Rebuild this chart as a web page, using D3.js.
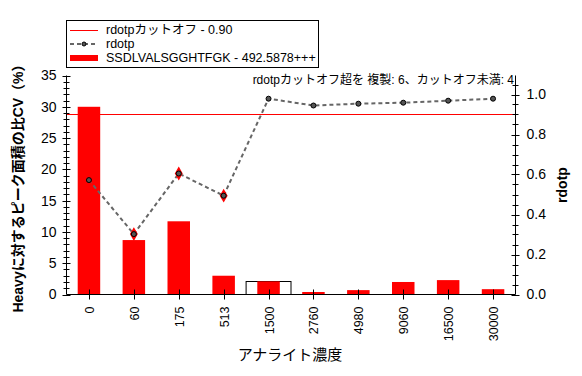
<!DOCTYPE html>
<html><head><meta charset="utf-8">
<script src="https://cdn.jsdelivr.net/npm/d3@7"></script>
<style>
body{margin:0;background:#fff;}
text{font-family:"Liberation Sans",Arial,"Noto Sans CJK JP",sans-serif;}
</style></head><body>
<svg id="c" width="582" height="376"></svg>
<script>
const categories = ["0","60","175","513","1500","2760","4980","9060","16500","30000"];
const cvValues = [30.0, 8.7, 11.7, 3.0, 2.1, 0.4, 0.7, 2.0, 2.3, 0.85];
const rdotpValues = [0.572, 0.302, 0.605, 0.494, 0.979, 0.945, 0.954, 0.959, 0.969, 0.979];
const cutoff = 0.90;
const highlightCategory = "1500";
const highlightValue = 2.2;
const leftTicks = [0,5,10,15,20,25,30,35];
const rightTicks = [0.0,0.2,0.4,0.6,0.8,1.0];

const svg = d3.select("#c");
const L = 66.5, R = 515.5, T = 75.5, B = 294.5;
const x = d3.scaleBand().domain(categories).range([L, R]).paddingInner(0).paddingOuter(0);
const yL = d3.scaleLinear().domain([0, 35]).range([B, T]);
const yR = d3.scaleLinear().domain([0, 1]).range([B, B - 200]);

// highlight box
svg.append("rect")
  .attr("x", x(highlightCategory)).attr("width", x.bandwidth())
  .attr("y", Math.round(yL(highlightValue)) + 0.5).attr("height", B - Math.round(yL(highlightValue)) - 0.5)
  .attr("fill", "#fff").attr("stroke", "#000").attr("stroke-width", 1);

// bars
const bw = 22.5;
svg.selectAll("rect.bar").data(categories).enter().append("rect")
  .attr("class", "bar")
  .attr("x", d => x(d) + x.bandwidth()/2 - bw/2)
  .attr("width", bw)
  .attr("y", (d,i) => yL(cvValues[i]))
  .attr("height", (d,i) => B - yL(cvValues[i]))
  .attr("fill", "#ff0000");

// cutoff line
const cy0 = Math.round(yR(cutoff)) + 0.5;
svg.append("line").attr("x1", L).attr("x2", R)
  .attr("y1", cy0).attr("y2", cy0)
  .attr("stroke", "#ff0000").attr("stroke-width", 1);

// rdotp line
const line = d3.line().x((d,i) => x(categories[i]) + x.bandwidth()/2).y(d => yR(d));
svg.append("path").datum(rdotpValues).attr("d", line)
  .attr("fill", "none").attr("stroke", "#666").attr("stroke-width", 2)
  .attr("stroke-dasharray", "4,3");

// markers
rdotpValues.forEach((v,i) => {
  const cx = x(categories[i]) + x.bandwidth()/2, cy = yR(v);
  if (v < cutoff) {
    svg.append("path").attr("d", d3.symbol(d3.symbolDiamond, 55)())
      .attr("transform", `translate(${cx},${cy})`).attr("fill", "#ff0000");
  }
  svg.append("circle").attr("cx", cx).attr("cy", cy).attr("r", 2.5)
    .attr("fill", "#555").attr("stroke", "#000").attr("stroke-width", 1);
});

// axes
const gL = svg.append("g").attr("transform", `translate(${L},0)`);
gL.append("line").attr("y1", T).attr("y2", B).attr("stroke", "#000");
d3.range(0, 36, 1).forEach(v => {
  const major = v % 5 === 0;
  const yy = Math.round(yL(v)) + 0.5;
  gL.append("line").attr("x1", major ? -4 : -3).attr("x2", major ? 4 : 3)
    .attr("y1", yy).attr("y2", yy).attr("stroke", "#000");
});
gL.selectAll("text").data(leftTicks).enter().append("text")
  .attr("x", -10).attr("y", d => yL(d)).attr("dy", "0.35em")
  .attr("text-anchor", "end").attr("font-size", 14).text(d => d);

const gR = svg.append("g").attr("transform", `translate(${R},0)`);
gR.append("line").attr("y1", T).attr("y2", B).attr("stroke", "#000");
d3.range(0, 22).forEach(k => {
  const v = k * 0.05;
  const major = k % 4 === 0;
  const yy = Math.round(yR(v)) + 0.5;
  gR.append("line").attr("x1", major ? -4 : -3).attr("x2", major ? 4 : 3)
    .attr("y1", yy).attr("y2", yy).attr("stroke", "#000");
});
gR.selectAll("text").data(rightTicks).enter().append("text")
  .attr("x", 11).attr("y", d => yR(d)).attr("dy", "0.35em")
  .attr("text-anchor", "start").attr("font-size", 14).text(d => d.toFixed(1));

const gB = svg.append("g").attr("transform", `translate(0,${B})`);
gB.append("line").attr("x1", L).attr("x2", R).attr("stroke", "#000");
categories.forEach(c => {
  const cx = Math.round(x(c) + x.bandwidth()/2) + 0.5;
  gB.append("line").attr("x1", cx).attr("x2", cx).attr("y1", -5).attr("y2", 5).attr("stroke", "#000");
  gB.append("text").attr("transform", `translate(${cx},12) rotate(-90)`)
    .attr("text-anchor", "end").attr("dy", "0.35em").attr("font-size", 12.5).text(c);
});

// titles
svg.append("text").attr("transform", "translate(18,185) rotate(-90)")
  .attr("text-anchor", "middle").attr("dy", "0.35em").attr("font-size", 14).attr("font-weight", "bold")
  .text("Heavyに対するピーク面積の比CV（%）");
svg.append("text").attr("transform", "translate(562,185) rotate(-90)")
  .attr("text-anchor", "middle").attr("dy", "0.35em").attr("font-size", 14).attr("font-weight", "bold")
  .text("rdotp");
svg.append("text").attr("x", 290).attr("y", 355).attr("dy", "0.35em")
  .attr("text-anchor", "middle").attr("font-size", 15).text("アナライト濃度");

// annotation
svg.append("text").attr("x", 514).attr("y", 80).attr("dy", "0.35em")
  .attr("text-anchor", "end").attr("font-size", 12)
  .text("rdotpカットオフ超を 複製: 6、カットオフ未満: 4");

// legend
const lg = svg.append("g");
lg.append("rect").attr("x", 66.5).attr("y", 20.5).attr("width", 252).attr("height", 47)
  .attr("fill", "#fff").attr("stroke", "#000");
lg.append("line").attr("x1", 70).attr("x2", 98).attr("y1", 30.5).attr("y2", 30.5).attr("stroke", "#ff0000");
lg.append("line").attr("x1", 70).attr("x2", 98).attr("y1", 44).attr("y2", 44)
  .attr("stroke", "#666").attr("stroke-width", 2).attr("stroke-dasharray", "4,3");
lg.append("circle").attr("cx", 84).attr("cy", 44).attr("r", 2).attr("fill", "#555").attr("stroke", "#000");
lg.append("rect").attr("x", 70).attr("y", 55).attr("width", 28).attr("height", 6).attr("fill", "#ff0000");
const legendLabels = ["rdotpカットオフ - 0.90", "rdotp", "SSDLVALSGGHTFGK - 492.5878+++"];
lg.selectAll("text.lt").data(legendLabels).enter().append("text")
  .attr("x", 106).attr("y", (d,i) => 30 + i*14).attr("dy", "0.35em")
  .attr("font-size", 12.5).text(d => d);
</script>
</body></html>
